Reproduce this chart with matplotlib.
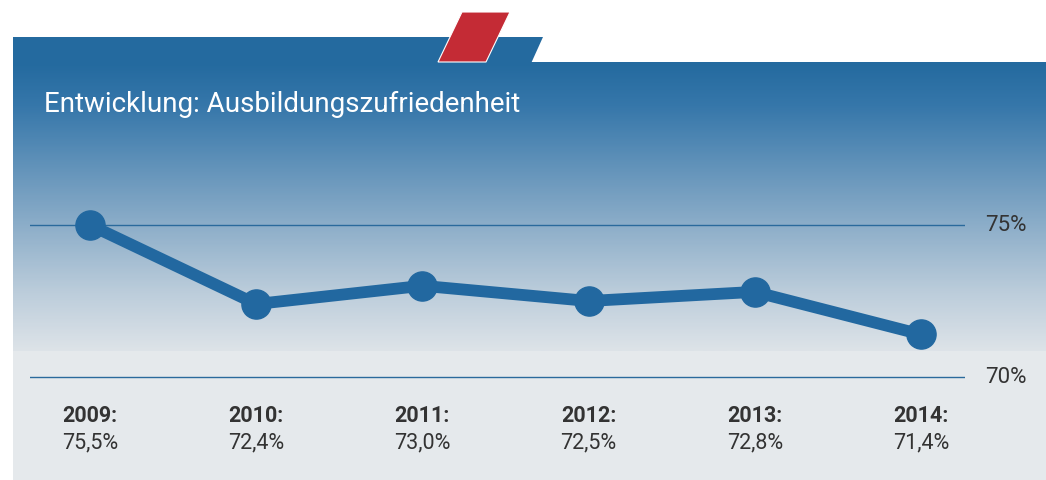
import matplotlib
matplotlib.use("Agg")
import matplotlib.pyplot as plt
import numpy as np
from matplotlib.patches import Polygon, Rectangle
from matplotlib.colors import LinearSegmentedColormap
import matplotlib.transforms as mtransforms

# ---- data ----
title = "Entwicklung: Ausbildungszufriedenheit"
years = ["2009", "2010", "2011", "2012", "2013", "2014"]
value_labels = ["75,5%", "72,4%", "73,0%", "72,5%", "72,8%", "71,4%"]
plotted_values = [75.0, 72.4, 73.0, 72.5, 72.8, 71.4]  # positions
gridlines = [70, 75]
gridline_labels = ["70%", "75%"]

FONT = ["Roboto", "DejaVu Sans"]
W, H = 1046, 481
fig = plt.figure(figsize=(W / 100, H / 100), dpi=100)
fig.patch.set_facecolor("white")

# background axes in pixel coordinates
bg = fig.add_axes([0, 0, 1, 1])
bg.set_xlim(0, W)
bg.set_ylim(H, 0)
bg.axis("off")

# gradient panel
cmap = LinearSegmentedColormap.from_list(
    "g", [(0.0, "#246a9f"), (0.15, "#3677aa"), (0.5, "#7fa5c4"),
          (0.8, "#bccddb"), (1.0, "#dde3e8")])
grad = np.linspace(0, 1, 300).reshape(-1, 1)
bg.imshow(grad, cmap=cmap, extent=[13, W, 352, 63.5], aspect="auto", zorder=1)
bg.add_patch(Rectangle((13, 352), W - 13, H - 352, facecolor="#e5e9ec",
                       edgecolor="none", zorder=1))

# top tab
bg.add_patch(Polygon([(13, 38), (543, 38), (531, 64.5), (13, 64.5)],
                     closed=True, facecolor="#246a9f", edgecolor="none", zorder=2))
# red parallelogram with white border
bg.add_patch(Polygon([(462, 13), (510, 13), (486, 63), (438, 63)],
                     closed=True, facecolor="#c42b35", edgecolor="white",
                     linewidth=0.8, zorder=3))

bg.text(44, 104, title, color="white", fontsize=20,
        family=FONT, va="center", ha="left", zorder=4)

# data axes
x0, x5 = 90, 921
ppx = (x5 - x0) / 5
ax_left_px, ax_right_px = 30, 965
ypx70, ypx75 = 378, 226
ppy = (ypx70 - ypx75) / 5
ax_top_px, ax_bot_px = 150, 400
ax = fig.add_axes([ax_left_px / W, 1 - ax_bot_px / H,
                   (ax_right_px - ax_left_px) / W, (ax_bot_px - ax_top_px) / H])
ax.set_xlim((ax_left_px - x0) / ppx, 5 + (ax_right_px - x5) / ppx)
ax.set_ylim(70 - (ax_bot_px - ypx70) / ppy, 75 + (ypx75 - ax_top_px) / ppy)
ax.patch.set_visible(False)
ax.axis("off")

for g, lab in zip(gridlines, gridline_labels):
    ax.axhline(g, color="#2a6a9c", linewidth=1.0, zorder=1)
    ax.text(1.0 + 41 / (ax_right_px - ax_left_px), g, lab,
            transform=mtransforms.blended_transform_factory(ax.transAxes, ax.transData),
            ha="center", va="center", fontsize=16, color="#333333",
            family=FONT)

xs = np.arange(len(years))
ax.plot(xs, plotted_values, color="#2268a0", linewidth=8.5, marker="o",
        markersize=21, markerfacecolor="#2268a0", markeredgecolor="#2268a0",
        solid_capstyle="round", zorder=3, clip_on=False)

# bottom labels
tr = mtransforms.blended_transform_factory(ax.transData, bg.transData)
for i, (yr, vl) in enumerate(zip(years, value_labels)):
    ax.text(i, 416, yr + ":", transform=tr, ha="center", va="center",
            fontsize=15.5, fontweight="bold", color="#333333", family=FONT)
    ax.text(i, 443, vl, transform=tr, ha="center", va="center",
            fontsize=15.5, color="#333333", family=FONT)

fig.savefig("out.png", dpi=100)
